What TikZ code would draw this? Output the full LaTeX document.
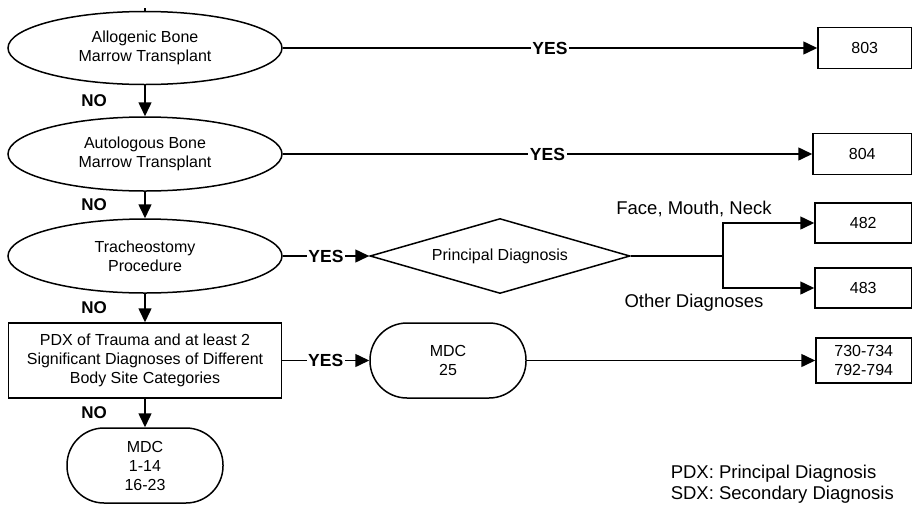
\documentclass[tikz,border=0pt]{standalone}
\usepackage{fontspec}
\setmainfont{Liberation Sans}
\usetikzlibrary{shapes.geometric,arrows.meta}
\begin{document}
\begin{tikzpicture}[x=1pt,y=-1pt, line width=1.5pt,
  every node/.style={font=\fontsize{16}{19}\selectfont, align=center, inner sep=0pt},
  oval/.style={draw, ellipse, minimum width=274pt, minimum height=73pt},
  box/.style={draw, rectangle, minimum height=41pt},
  term/.style={draw, rectangle, rounded corners=37pt, minimum width=156pt, minimum height=75pt},
  arr/.style={-{Triangle[length=14pt,width=13pt]}},
  yeslab/.style={fill=white, inner sep=1.5pt, font=\fontsize{17.5}{20}\selectfont\bfseries},
  nolab/.style={font=\fontsize{17}{20}\selectfont\bfseries, xshift=-51pt},
  side/.style={font=\fontsize{18.5}{22}\selectfont}
]
\useasboundingbox (0,0) rectangle (913,504);

% decisions
\node[oval] (e1) at (145,48) {Allogenic Bone\\Marrow Transplant};
\node[oval, minimum height=74pt] (e2) at (145,154) {Autologous Bone\\Marrow Transplant};
\node[oval, minimum height=74pt] (e3) at (145,256) {Tracheostomy\\Procedure};
\node[draw, minimum width=273pt, minimum height=75pt] (r4) at (145,360.5) {PDX of Trauma and at least 2\\Significant Diagnoses of Different\\Body Site Categories};
\node[term] (m1) at (145,465.5) {MDC\\1-14\\16-23};
\node[draw, diamond, aspect=3.4667, minimum width=260pt, minimum height=75pt] (dia) at (500,256) {Principal Diagnosis};
\node[term] (m25) at (448,360.5) {MDC\\25};

% results
\node[box, minimum width=93.5pt] (b803) at (864.75,48) {803};
\node[box, minimum width=98.5pt] (b804) at (862.25,154) {804};
\node[box, minimum width=96.5pt, minimum height=40pt] (b482) at (863.25,223) {482};
\node[box, minimum width=96.5pt, minimum height=40pt] (b483) at (863.25,288) {483};
\node[box, minimum width=95.5pt, minimum height=45pt] (b730) at (863.75,360.5) {730-734\\792-794};

% labels
\node[side] (fmn) at (694,209) {Face, Mouth, Neck};
\node[side] (oth) at (694,303) {Other Diagnoses};
\node[font=\fontsize{18.5}{21}\selectfont, align=left, anchor=west] (leg) at (670,484.5) {PDX: Principal Diagnosis\\SDX: Secondary Diagnosis};

% connectors
\coordinate (tick) at (145,8);
\draw (e1.north) -- (tick);
\draw[arr] (e1) -- node[yeslab]{YES} (b803);
\draw[arr] (e2) -- node[yeslab]{YES} (b804);
\draw[arr] (e3) -- node[yeslab]{YES} (dia);
\draw[arr] (r4) -- node[yeslab]{YES} (m25);
\draw[arr] (m25) -- (b730);
\coordinate (br) at (723,256);
\draw (dia.east) -- (br);
\draw[arr] (br) |- (b482.west);
\draw[arr] (br) |- (b483.west);
\draw[arr] (e1) -- node[nolab]{NO} (e2);
\draw[arr] (e2) -- node[nolab]{NO} (e3);
\draw[arr] (e3) -- node[nolab]{NO} (r4);
\draw[arr] (r4) -- node[nolab]{NO} (m1);
\end{tikzpicture}
\end{document}
